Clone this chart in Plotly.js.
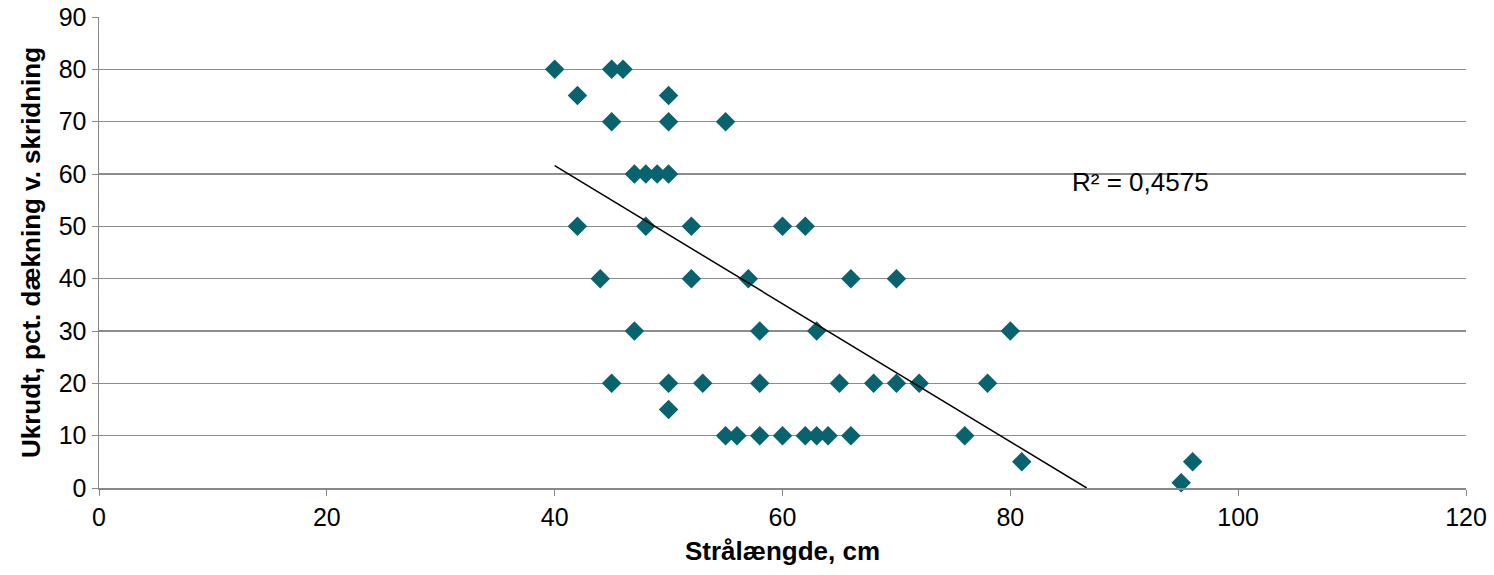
<!DOCTYPE html>
<html>
<head>
<meta charset="utf-8">
<script src="https://cdn.plot.ly/plotly-3.0.1.min.js"></script>
<style>html,body{margin:0;padding:0;background:#fff;}#chart{width:1494px;height:575px;}</style>
</head>
<body>
<div id="chart"></div>
<script>
const straalaengde = [40,45,46, 42,50, 45,50,55, 47,48,49,50, 42,48,52,60,62, 44,52,57,66,70, 47,58,63,80, 45,50,53,58,65,68,70,72,78, 50, 55,56,58,60,62,63,64,66,76, 81,96, 95];
const ukrudt =       [80,80,80, 75,75, 70,70,70, 60,60,60,60, 50,50,50,50,50, 40,40,40,40,40, 30,30,30,30, 20,20,20,20,20,20,20,20,20, 15, 10,10,10,10,10,10,10,10,10, 5,5, 1];
const xTicks = [0,20,40,60,80,100,120];
const yTicks = [0,10,20,30,40,50,60,70,80,90];
const r2Label = "R² = 0,4575";
// Linear trendline as drawn in the reference
const trendSlope = -1.319;
const trendIntercept = 114.36;

const xmin = Math.min(...straalaengde), xmax = Math.max(...straalaengde);
let xEnd = xmax;
if (trendIntercept + trendSlope*xmax < 0) xEnd = -trendIntercept/trendSlope;
const trendX = [xmin, xEnd];
const trendY = trendX.map(x => trendIntercept + trendSlope*x);

const font = "Liberation Sans, Arial, sans-serif";
const data = [
  {x: straalaengde, y: ukrudt, type:'scatter', mode:'markers',
   marker:{symbol:'diamond', size:15, color:'#08636e'}, cliponaxis:false},
  {x: trendX, y: trendY, type:'scatter', mode:'lines', line:{color:'#000', width:1.5}}
];
const layout = {
  width:1494, height:575,
  margin:{l:99, r:28, t:17, b:87},
  paper_bgcolor:'#fff', plot_bgcolor:'#fff',
  showlegend:false,
  font:{family:font, size:25, color:'#000'},
  xaxis:{range:[0,120], tickvals:xTicks, ticks:'outside', ticklen:6, tickcolor:'#888',
         showgrid:false, zeroline:false, showline:true, linecolor:'#888', linewidth:1.5,
         tickfont:{size:25}, title:{text:'<b>Strålængde, cm</b>', font:{size:26}, standoff:12}},
  yaxis:{range:[0,90], tickvals:yTicks, ticks:'outside', ticklen:6, tickcolor:'#888',
         showgrid:true, gridcolor:'#8c8c8c', gridwidth:1.5, zeroline:false, showline:true, linecolor:'#888', linewidth:1.5,
         tickfont:{size:25}, title:{text:'<b>Ukrudt, pct. dækning v. skridning</b>', font:{size:26}, standoff:10}},
  annotations:[{x:91.4, y:58.5, xref:'x', yref:'y', text:r2Label, showarrow:false, font:{size:26, color:'#000'}}]
};
Plotly.newPlot('chart', data, layout, {displayModeBar:false, staticPlot:true});
</script>
</body>
</html>
